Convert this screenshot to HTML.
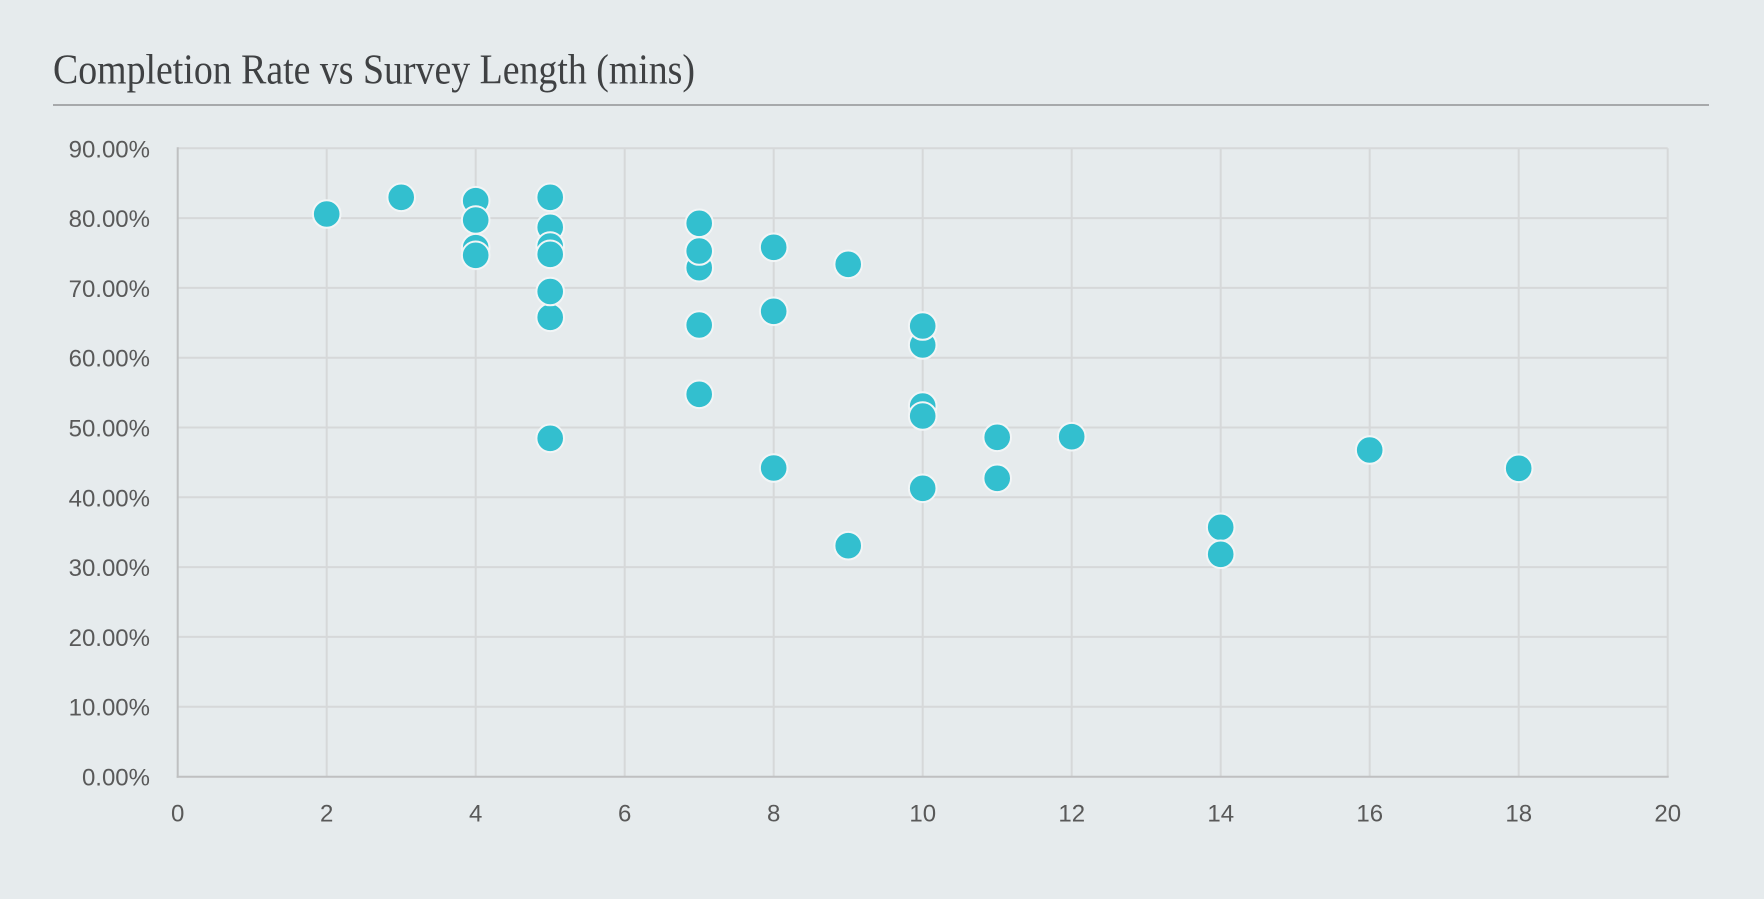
<!DOCTYPE html>
<html>
<head>
<meta charset="utf-8">
<style>
  html, body { margin: 0; padding: 0; background: #e6ebed; }
  body { width: 1764px; height: 899px; overflow: hidden; }
  svg { display: block; }
</style>
</head>
<body>
<svg width="1764" height="899" viewBox="0 0 1764 899" xmlns="http://www.w3.org/2000/svg">
  <rect x="0" y="0" width="1764" height="899" fill="#e6ebed"/>
  <!-- Title -->
  <text x="53" y="83.5" font-family="Liberation Serif, serif" font-size="42" fill="#3f4143" textLength="642" lengthAdjust="spacingAndGlyphs">Completion Rate vs Survey Length (mins)</text>
  <rect x="53" y="104" width="1656" height="2" fill="#a7a9ab"/>

  <!-- Horizontal gridlines -->
  <g stroke="#d6d8d9" stroke-width="2">
    <line x1="177.7" y1="148.3" x2="1667.7" y2="148.3"/>
    <line x1="177.7" y1="218.1" x2="1667.7" y2="218.1"/>
    <line x1="177.7" y1="287.9" x2="1667.7" y2="287.9"/>
    <line x1="177.7" y1="357.7" x2="1667.7" y2="357.7"/>
    <line x1="177.7" y1="427.5" x2="1667.7" y2="427.5"/>
    <line x1="177.7" y1="497.3" x2="1667.7" y2="497.3"/>
    <line x1="177.7" y1="567.1" x2="1667.7" y2="567.1"/>
    <line x1="177.7" y1="636.9" x2="1667.7" y2="636.9"/>
    <line x1="177.7" y1="706.7" x2="1667.7" y2="706.7"/>
  </g>
  <!-- Vertical gridlines -->
  <g stroke="#d6d8d9" stroke-width="2">
    <line x1="326.7" y1="148.3" x2="326.7" y2="776.7"/>
    <line x1="475.7" y1="148.3" x2="475.7" y2="776.7"/>
    <line x1="624.7" y1="148.3" x2="624.7" y2="776.7"/>
    <line x1="773.7" y1="148.3" x2="773.7" y2="776.7"/>
    <line x1="922.7" y1="148.3" x2="922.7" y2="776.7"/>
    <line x1="1071.7" y1="148.3" x2="1071.7" y2="776.7"/>
    <line x1="1220.7" y1="148.3" x2="1220.7" y2="776.7"/>
    <line x1="1369.7" y1="148.3" x2="1369.7" y2="776.7"/>
    <line x1="1518.7" y1="148.3" x2="1518.7" y2="776.7"/>
    <line x1="1667.7" y1="148.3" x2="1667.7" y2="776.7"/>
  </g>
  <!-- Axes -->
  <g stroke="#bfc0c1" stroke-width="2">
    <line x1="177.7" y1="147.3" x2="177.7" y2="777.7"/>
    <line x1="176.7" y1="776.7" x2="1668.7" y2="776.7"/>
  </g>

  <!-- Y labels -->
  <g font-family="Liberation Sans, Arial, sans-serif" font-size="24" fill="#595959" text-anchor="end">
    <text x="150" y="157.3">90.00%</text>
    <text x="150" y="227.1">80.00%</text>
    <text x="150" y="296.9">70.00%</text>
    <text x="150" y="366.7">60.00%</text>
    <text x="150" y="436.5">50.00%</text>
    <text x="150" y="506.3">40.00%</text>
    <text x="150" y="576.1">30.00%</text>
    <text x="150" y="645.9">20.00%</text>
    <text x="150" y="715.7">10.00%</text>
    <text x="150" y="785.5">0.00%</text>
  </g>
  <!-- X labels -->
  <g font-family="Liberation Sans, Arial, sans-serif" font-size="24" fill="#595959" text-anchor="middle">
    <text x="177.7" y="821.7">0</text>
    <text x="326.7" y="821.7">2</text>
    <text x="475.7" y="821.7">4</text>
    <text x="624.7" y="821.7">6</text>
    <text x="773.7" y="821.7">8</text>
    <text x="922.7" y="821.7">10</text>
    <text x="1071.7" y="821.7">12</text>
    <text x="1220.7" y="821.7">14</text>
    <text x="1369.7" y="821.7">16</text>
    <text x="1518.7" y="821.7">18</text>
    <text x="1667.7" y="821.7">20</text>
  </g>

  <!-- Data points -->
  <g fill="#33bfcf" stroke="#f2f5f6" stroke-width="2">
    <circle cx="326.7" cy="214" r="13.8"/>
    <circle cx="401.2" cy="197.3" r="13.8"/>

    <circle cx="475.7" cy="200.7" r="13.8"/>
    <circle cx="475.7" cy="220" r="13.8"/>
    <circle cx="475.7" cy="247.7" r="13.8"/>
    <circle cx="475.7" cy="255.3" r="13.8"/>

    <circle cx="550.2" cy="197.3" r="13.8"/>
    <circle cx="550.2" cy="227.3" r="13.8"/>
    <circle cx="550.2" cy="246" r="13.8"/>
    <circle cx="550.2" cy="254.3" r="13.8"/>
    <circle cx="550.2" cy="317.3" r="13.8"/>
    <circle cx="550.2" cy="291.5" r="13.8"/>
    <circle cx="550.2" cy="438.3" r="13.8"/>

    <circle cx="699.2" cy="267.7" r="13.8"/>
    <circle cx="699.2" cy="223.3" r="13.8"/>
    <circle cx="699.2" cy="251" r="13.8"/>
    <circle cx="699.2" cy="325" r="13.8"/>
    <circle cx="699.2" cy="394.3" r="13.8"/>

    <circle cx="773.7" cy="247.3" r="13.8"/>
    <circle cx="773.7" cy="311.3" r="13.8"/>
    <circle cx="773.7" cy="468" r="13.8"/>

    <circle cx="848.2" cy="264.3" r="13.8"/>
    <circle cx="848.2" cy="545.7" r="13.8"/>

    <circle cx="922.7" cy="345" r="13.8"/>
    <circle cx="922.7" cy="326" r="13.8"/>
    <circle cx="922.7" cy="406" r="13.8"/>
    <circle cx="922.7" cy="416" r="13.8"/>
    <circle cx="922.7" cy="488.3" r="13.8"/>

    <circle cx="997.2" cy="437.3" r="13.8"/>
    <circle cx="997.2" cy="478.3" r="13.8"/>

    <circle cx="1071.7" cy="436.7" r="13.8"/>

    <circle cx="1220.7" cy="527.3" r="13.8"/>
    <circle cx="1220.7" cy="554.3" r="13.8"/>

    <circle cx="1369.7" cy="450" r="13.8"/>
    <circle cx="1518.7" cy="468.3" r="13.8"/>
  </g>
</svg>
</body>
</html>
